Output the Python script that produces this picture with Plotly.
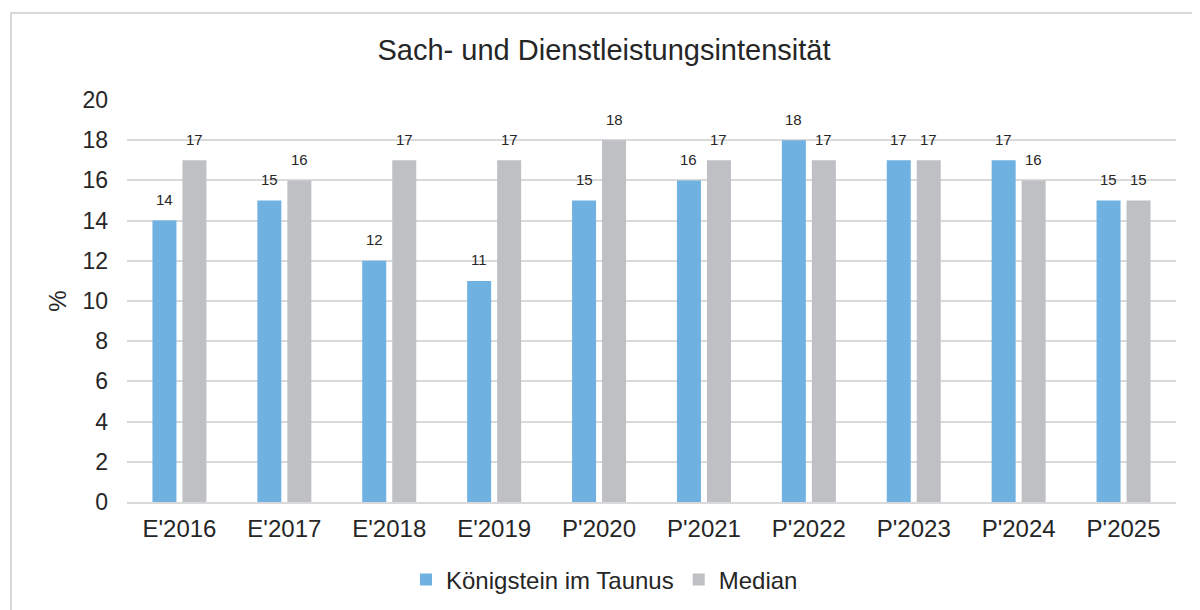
import plotly.graph_objects as go

categories = ["E'2016", "E'2017", "E'2018", "E'2019", "P'2020",
              "P'2021", "P'2022", "P'2023", "P'2024", "P'2025"]
koenigstein = [14, 15, 12, 11, 15, 16, 18, 17, 17, 15]
median = [17, 16, 17, 17, 18, 17, 17, 17, 16, 15]

FONT = "Liberation Sans, Arial, sans-serif"
TEXT = "#262626"

fig = go.Figure()
fig.add_trace(go.Bar(x=categories, y=koenigstein, name="Königstein im Taunus",
                     marker=dict(color="#6FB1E0", line=dict(width=0))))
fig.add_trace(go.Bar(x=categories, y=median, name="Median",
                     marker=dict(color="#BFC0C4", line=dict(width=0))))

# value labels above each bar
for vals, shift in ((koenigstein, -15), (median, 15)):
    for cat, v in zip(categories, vals):
        fig.add_annotation(x=cat, y=v, text=str(v), showarrow=False,
                           xshift=shift, yshift=21, yanchor="middle",
                           font=dict(size=15, color=TEXT))

# light grey chart frame, cut off at the right and bottom
fig.add_shape(type="rect", xref="paper", yref="paper",
              x0=-0.1106, x1=1.1, y0=-0.5, y1=1.2164,
              line=dict(color="#D9D9D9", width=2), layer="below")

fig.update_layout(
    width=1192, height=602,
    margin=dict(l=119, r=24, t=92, b=108, autoexpand=False),
    paper_bgcolor="white", plot_bgcolor="white",
    font=dict(family=FONT, color=TEXT),
    title=dict(text="Sach- und Dienstleistungsintensität", x=0.5, xanchor="center",
               y=0.930, yanchor="middle", font=dict(size=29, color=TEXT)),
    barmode="group", bargap=0.428, bargroupgap=0.2,
    legend=dict(orientation="h", x=0.4552, xanchor="center", y=-0.194, yanchor="middle",
                font=dict(size=24), traceorder="normal"),
)
fig.update_xaxes(showgrid=False, showline=True, linecolor="#D9D9D9", linewidth=2,
                 ticks="", tickfont=dict(size=24), ticklabelstandoff=4, automargin=False)
fig.update_yaxes(range=[0, 20], dtick=2, showgrid=True, gridcolor="#D9D9D9", gridwidth=2,
                 zeroline=False, showline=False, tickfont=dict(size=23), ticks="",
                 ticklabelstandoff=18, automargin=False,
                 title=dict(text="%", font=dict(size=24), standoff=9))

fig.write_html("out.html")
